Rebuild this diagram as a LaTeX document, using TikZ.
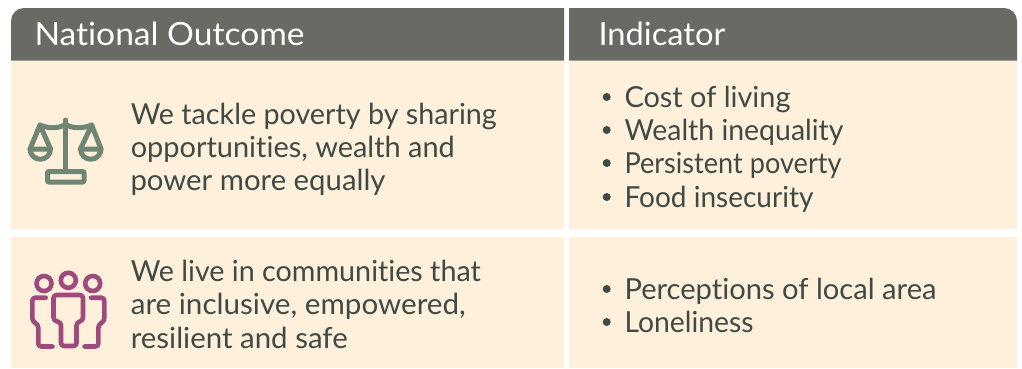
\documentclass[tikz,border=0pt]{standalone}
\usepackage{graphicx}
\usepackage{fontspec}
\setmainfont[Ligatures={NoCommon,NoRequired,NoContextual}]{Lato}
\definecolor{headc}{HTML}{696A64}
\definecolor{creamc}{HTML}{FEF0DA}
\definecolor{textc}{HTML}{3F4A46}
\definecolor{sagec}{HTML}{708674}
\definecolor{plumc}{HTML}{9E4A7C}
\newcommand{\fitw}[2]{\resizebox{#1pt}{\height}{#2}}
\tikzset{
 x=1pt,y=-1pt,
 headtext/.style={anchor=base west,inner sep=0pt,text=white,font=\fontsize{32}{33}\selectfont},
 bodytext/.style={anchor=base west,inner sep=0pt,text=textc,font=\fontsize{29}{33}\selectfont},
 dotmark/.style={circle,fill=textc,inner sep=0pt,minimum size=8pt},
 scaleline/.style={draw=sagec,line width=5pt,line join=round,line cap=round},
 peopleline/.style={draw=plumc,line width=4.6pt,line join=round,line cap=round,rounded corners=3pt},
}
\begin{document}
\begin{tikzpicture}
\useasboundingbox (0,0) rectangle (1022,368);
\fill[white] (0,0) rectangle (1022,368);
% header
\fill[headc] (11,21) -- (11,60.5) -- (564,60.5) -- (564,8) -- (24,8) arc[start angle=90,end angle=180,radius=13pt] -- cycle;
\fill[headc] (569,8) -- (569,60.5) -- (1017,60.5) -- (1017,21) arc[start angle=0,end angle=90,radius=13pt] -- cycle;
% cells
\fill[creamc] (11,60.5) rectangle (564,229);
\fill[creamc] (569,60.5) rectangle (1017,229);
\fill[creamc] (11,237) rectangle (564,368);
\fill[creamc] (569,237) rectangle (1017,368);
% header text
\node[headtext] (h1) at (34.3,45) {\fitw{270}{National Outcome}};
\node[headtext] (h2) at (598.3,45) {\fitw{127}{Indicator}};
% row 1
\node[bodytext] (a1) at (130.6,124) {\fitw{366}{We tackle poverty by sharing}};
\node[bodytext] (a2) at (130.6,157) {\fitw{324}{opportunities, wealth and}};
\node[bodytext] (a3) at (130.3,190) {\fitw{255}{power more equally}};
\node[dotmark] (d1) at (606.7,97) {};
\node[dotmark] (d2) at (606.7,130) {};
\node[dotmark] (d3) at (606.7,163) {};
\node[dotmark] (d4) at (606.7,197) {};
\node[bodytext] (b1) at (624.3,107) {\fitw{166}{Cost of living}};
\node[bodytext] (b2) at (624.3,140) {\fitw{219}{Wealth inequality}};
\node[bodytext] (b3) at (624.3,173) {\fitw{217}{Persistent poverty}};
\node[bodytext] (b4) at (624.3,207) {\fitw{189}{Food insecurity}};
% row 2
\node[bodytext] (c1) at (130.6,281) {\fitw{350}{We live in communities that}};
\node[bodytext] (c2) at (130.6,314) {\fitw{335}{are inclusive, empowered,}};
\node[bodytext] (c3) at (130.6,348) {\fitw{217}{resilient and safe}};
\node[dotmark] (e1) at (606.7,289) {};
\node[dotmark] (e2) at (606.7,322) {};
\node[bodytext] (f1) at (624.3,299) {\fitw{312}{Perceptions of local area}};
\node[bodytext] (f2) at (624.3,332) {\fitw{129}{Loneliness}};
% scales icon
\draw[scaleline] (65.7,120) -- (65.7,171);
\draw[scaleline,rounded corners=1pt] (47.5,171.5) rectangle (84,182);
\draw[scaleline] (40,125) .. controls (47,128.5) and (60,129) .. (65.7,124) .. controls (71,129) and (84,128.5) .. (91.7,125);
\draw[scaleline] (30,149) -- (40,125) -- (50.5,149);
\draw[scaleline] (30,149) -- (50.5,149) arc[start angle=0,end angle=180,radius=10.25pt,y radius=-10.25pt] -- cycle;
\draw[scaleline] (80.5,149) -- (91.7,125) -- (101,149);
\draw[scaleline] (80.5,149) -- (101,149) arc[start angle=0,end angle=180,radius=10.25pt,y radius=-10.25pt] -- cycle;
% people icon
\draw[draw=plumc,line width=4.6pt] (44,283.5) circle[radius=7.5pt];
\draw[draw=plumc,line width=4.6pt] (68.3,280.3) circle[radius=7.5pt];
\draw[draw=plumc,line width=4.6pt] (92.7,283.5) circle[radius=7.5pt];
\draw[peopleline] (53.5,295) -- (83,295) -- (83,320.5) -- (76.5,322.5) -- (76.5,346) -- (61,346) -- (61,322.5) -- (53.5,320.5) -- cycle;
\draw[peopleline] (45.7,297.7) -- (32.3,297.7) -- (32.3,321) -- (38.3,325) -- (38.3,346.5) -- (52.5,346.5);
\draw[peopleline] (91,297.7) -- (104.3,297.7) -- (104.3,321) -- (98.3,325) -- (98.3,346.5) -- (84.5,346.5);
\end{tikzpicture}
\end{document}
